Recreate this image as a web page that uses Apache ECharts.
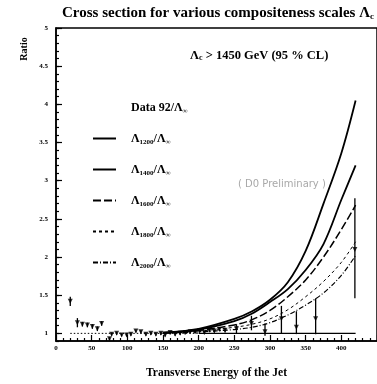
<!DOCTYPE html>
<html>
<head>
<meta charset="utf-8">
<script src="https://cdn.jsdelivr.net/npm/echarts@6/dist/echarts.min.js"></script>
<style>
  html, body { margin: 0; padding: 0; background: #fff; }
  #chart { width: 377px; height: 384px; }
</style>
</head>
<body>
<div id="chart"></div>
<script>
// Measured jet cross section ratio (Data 92 / Λ∞) with asymmetric error bars
const dataEt    = [20, 30, 37, 44, 51, 58, 64, 75, 78, 85, 92, 99, 105, 112, 119, 126, 133, 140, 147, 153, 160, 167, 174, 181, 188, 195, 201, 208, 215, 222, 229, 237, 253, 274, 293, 316, 337, 364, 419];
const dataRatio = [1.42, 1.14, 1.12, 1.11, 1.09, 1.06, 1.13, 0.93, 0.99, 1.00, 0.98, 0.98, 0.99, 1.03, 1.02, 0.99, 1.00, 0.99, 1.00, 0.98, 1.01, 0.99, 1.00, 1.01, 1.02, 1.02, 1.03, 1.01, 1.04, 1.03, 1.05, 1.04, 1.06, 1.13, 1.02, 1.19, 1.08, 1.19, 2.10];
const dataLow   = [1.36, 1.08, 1.09, 1.08, 1.06, 1.03, 1.10, 0.91, 0.97, 0.98, 0.96, 0.96, 0.97, 1.01, 1.00, 0.97, 0.98, 0.97, 0.98, 0.96, 0.99, 0.97, 0.98, 0.99, 1.00, 1.00, 1.01, 0.99, 1.02, 1.01, 1.03, 1.01, 1.00, 1.04, 0.97, 1.00, 0.99, 0.99, 1.46];
const dataHigh  = [1.48, 1.20, 1.15, 1.14, 1.12, 1.09, 1.16, 0.95, 1.01, 1.02, 1.00, 1.00, 1.01, 1.05, 1.04, 1.01, 1.02, 1.01, 1.02, 1.00, 1.03, 1.01, 1.02, 1.03, 1.04, 1.04, 1.05, 1.03, 1.06, 1.05, 1.07, 1.07, 1.12, 1.23, 1.13, 1.36, 1.29, 1.46, 2.77];

// Compositeness predictions Λ_X / Λ∞ versus transverse energy
const curveEt  = [150, 200, 250, 275, 300, 325, 350, 375, 400, 420];
const lam1200  = [1.01, 1.06, 1.19, 1.29, 1.44, 1.67, 2.08, 2.70, 3.36, 4.05];
const lam1400  = [1.01, 1.05, 1.16, 1.26, 1.41, 1.58, 1.83, 2.17, 2.75, 3.20];
const lam1600  = [1.00, 1.04, 1.11, 1.18, 1.30, 1.48, 1.70, 2.00, 2.36, 2.68];
const lam1800  = [1.00, 1.03, 1.08, 1.12, 1.19, 1.31, 1.48, 1.68, 1.93, 2.20];
const lam2000  = [1.00, 1.02, 1.05, 1.08, 1.14, 1.24, 1.37, 1.53, 1.76, 2.02];

// Unit ratio reference
const unitDotted = [[20, 1], [200, 1]];
const unitSolid  = [[200, 1], [420, 1]];

const yMajorTicks = [1, 1.5, 2, 2.5, 3, 3.5, 4, 4.5, 5];

const serif = 'Liberation Serif';
const zip = (xs, ys) => xs.map((x, i) => [x, ys[i]]);

const chart = echarts.init(document.getElementById('chart'), null, { renderer: 'canvas' });

const axisFont = { fontFamily: serif, fontWeight: 'bold', fontSize: 7, color: '#000' };

const curveSeries = (name, values, lineStyle) => ({
  name, type: 'line', data: zip(curveEt, values),
  symbol: 'none', smooth: 0.35,
  itemStyle: { color: '#000' },
  lineStyle: Object.assign({ color: '#000' }, lineStyle), z: 3
});

chart.setOption({
  animation: false,
  backgroundColor: '#fff',
  grid: {
    left: 56, right: -6, top: 28, bottom: 37.4,
    show: true, borderColor: '#000', borderWidth: 1.5, backgroundColor: 'transparent'
  },
  xAxis: [{
    type: 'value', min: 0, max: 450, interval: 50,
    name: 'Transverse Energy of the Jet', nameLocation: 'middle', nameGap: 26,
    nameTextStyle: { fontFamily: serif, fontWeight: 'bold', fontSize: 11.5, color: '#000' },
    axisLine: { lineStyle: { color: '#000', width: 1.5 } },
    axisTick: { inside: true, length: 6, lineStyle: { color: '#000', width: 1.2 } },
    minorTick: { show: true, splitNumber: 5, length: 3, lineStyle: { color: '#000', width: 1.2 } },
    axisLabel: Object.assign({ margin: 4, showMaxLabel: false }, axisFont),
    splitLine: { show: false }
  }],
  yAxis: [{
    type: 'value', min: 0.9, max: 5, interval: 0.1,
    axisLine: { show: true, lineStyle: { color: '#000', width: 1.5 } },
    axisTick: { inside: true, length: 3, lineStyle: { color: '#000', width: 1.2 } },
    axisLabel: Object.assign({
      margin: 8,
      formatter: v => {
        const t = Math.round(v * 10);
        return t % 5 === 0 ? String(t / 10) : '';
      }
    }, axisFont),
    splitLine: { show: false }
  }, {
    type: 'value', min: 0.9, max: 5, position: 'left',
    axisLine: { show: false },
    axisTick: { show: true, inside: true, length: 6, customValues: yMajorTicks, lineStyle: { color: '#000', width: 1.2 } },
    axisLabel: { show: false },
    splitLine: { show: false }
  }],
  legend: {
    left: 92, top: 100, orient: 'vertical', padding: 0,
    itemWidth: 23, itemHeight: 14, itemGap: 16,
    selectedMode: false,
    itemStyle: { opacity: 0 },
    data: [
      { name: 'Data 92/Λ∞', icon: 'none' },
      'Λ1200/Λ∞', 'Λ1400/Λ∞', 'Λ1600/Λ∞', 'Λ1800/Λ∞', 'Λ2000/Λ∞'
    ],
    formatter: name => name.replace(/Λ(\d+|∞)/g, 'Λ{s|$1}'),
    textStyle: {
      fontFamily: serif, fontWeight: 'bold', fontSize: 12, color: '#000',
      lineHeight: 15, padding: [0, 0, 0, 10],
      rich: {
        s: { fontFamily: serif, fontWeight: 'bold', fontSize: 7, lineHeight: 8, verticalAlign: 'bottom', color: '#000' }
      }
    }
  },
  graphic: [
    {
      type: 'text', left: 62, top: 6, z: 10,
      style: {
        text: 'Cross section for various compositeness scales Λ{s|c}',
        font: `bold 15px "${serif}"`, fill: '#000',
        rich: { s: { fontFamily: serif, fontWeight: 'bold', fontSize: 9, verticalAlign: 'bottom', lineHeight: 10 } }
      }
    },
    {
      type: 'text', left: 190, top: 49, z: 10,
      style: {
        text: 'Λ{s|c} > 1450 GeV (95 % CL)',
        font: `bold 12.5px "${serif}"`, fill: '#000',
        rich: { s: { fontFamily: serif, fontWeight: 'bold', fontSize: 8, verticalAlign: 'bottom', lineHeight: 9 } }
      }
    },
    {
      type: 'text', x: 24, y: 49, rotation: Math.PI / 2, z: 10,
      style: {
        text: 'Ratio', font: `bold 10px "${serif}"`, fill: '#000',
        align: 'center', verticalAlign: 'middle'
      }
    },
    {
      type: 'text', left: 238, top: 179, z: 0,
      style: { text: '( D0 Preliminary )', font: '10px "DejaVu Sans"', fill: '#a8a8a8' }
    }
  ],
  series: [
    {
      name: 'unit-dotted', type: 'line', data: unitDotted, symbol: 'none',
      lineStyle: { color: '#000', width: 1, type: [1.5, 2] }, z: 2
    },
    {
      name: 'unit-solid', type: 'line', data: unitSolid, symbol: 'none',
      lineStyle: { color: '#000', width: 1.2 }, z: 2
    },
    curveSeries('Λ1200/Λ∞', lam1200, { width: 1.8 }),
    curveSeries('Λ1400/Λ∞', lam1400, { width: 1.8 }),
    curveSeries('Λ1600/Λ∞', lam1600, { width: 1.5, type: [8, 3] }),
    curveSeries('Λ1800/Λ∞', lam1800, { width: 1, type: [3, 3] }),
    curveSeries('Λ2000/Λ∞', lam2000, { width: 1.2, type: [5, 2, 1, 2] }),
    {
      name: 'error bars', type: 'custom', z: 4,
      data: dataEt.map((x, i) => [x, dataLow[i], dataHigh[i]]),
      renderItem: (params, api) => {
        const lo = api.coord([api.value(0), api.value(1)]);
        const hi = api.coord([api.value(0), api.value(2)]);
        return {
          type: 'line',
          shape: { x1: lo[0], y1: lo[1], x2: hi[0], y2: hi[1] },
          style: { stroke: '#000', lineWidth: 1.3 }
        };
      }
    },
    {
      name: 'Data 92/Λ∞', type: 'scatter', z: 5,
      data: zip(dataEt, dataRatio),
      symbol: 'triangle', symbolRotate: 180, symbolSize: 5,
      itemStyle: { color: '#000' }
    }
  ]
});
</script>
</body>
</html>
